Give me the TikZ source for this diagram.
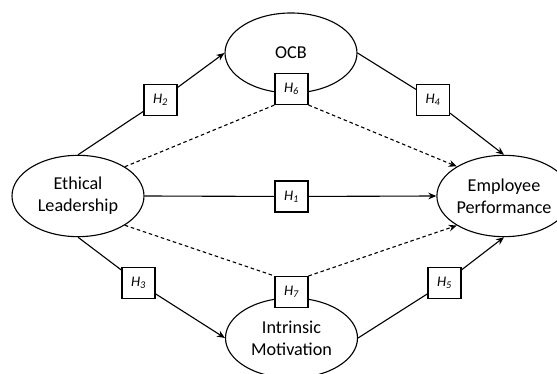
\documentclass[tikz,border=0pt]{standalone}
\usepackage{fontspec}
\setmainfont{Carlito}
\usepackage{tikz}
\usetikzlibrary{arrows.meta,shapes.geometric}

\begin{document}
\begin{tikzpicture}[x=0.03cm,y=-0.03cm,line width=0.95pt,
	>={Stealth[length=2.4mm,width=2mm]},
	construct/.style={draw,ellipse,inner sep=0pt,minimum width=3.96cm,minimum height=2.44cm,
		align=center,font=\fontsize{15.5}{19}\selectfont},
	hypo/.style={draw,fill=white,inner sep=0pt,minimum width=0.99cm,minimum height=0.93cm,
		font=\fontsize{12.5}{13}\selectfont\itshape},
	mediated/.style={dash pattern=on 3pt off 2.4pt}]

\useasboundingbox (0,0) rectangle (557,374);
\clip (0,0) rectangle (557,374);

% constructs
\node[construct] (lead) at (78,196) {Ethical\\Leadership};
\node[construct,minimum height=2.4cm] (ocb) at (291,53) {OCB};
\node[construct,minimum height=2.4cm] (motiv) at (291.5,338) {Intrinsic\\Motivation};
\node[construct] (perf) at (504,196) {Employee\\Performance};

% hypotheses
\node[hypo] (h1) at (291.5,196.5) {H\textsubscript{1}};
\node[hypo] (h2) at (160.5,100) {H\textsubscript{2}};
\node[hypo] (h3) at (138.5,283) {H\textsubscript{3}};
\node[hypo] (h4) at (433,100) {H\textsubscript{4}};
\node[hypo] (h5) at (444.5,283) {H\textsubscript{5}};
\node[hypo] (h6) at (291.5,89) {H\textsubscript{6}};
\node[hypo] (h7) at (291.5,292) {H\textsubscript{7}};

% direct paths
\draw (lead.east) -- (h1);
\draw[->] (h1) -- (perf.west);

\draw (lead.north) -- (h2);
\draw[->] (h2) -- (ocb.west);
\draw (ocb.east) -- (h4);
\draw[->] (h4) -- (perf.north);

\draw (lead.south) -- (h3);
\draw[->] (h3) -- (motiv.west);
\draw (motiv.east) -- (h5);
\draw[->] (h5) -- (perf.south);

% mediated paths
\draw[mediated] (lead.32) -- (h6.south west);
\draw[mediated,->] (h6.south east) -- (perf.148);
\draw[mediated] (lead.-32) -- (h7.north west);
\draw[mediated,->] (h7.north east) -- (perf.-148);

\end{tikzpicture}
\end{document}
